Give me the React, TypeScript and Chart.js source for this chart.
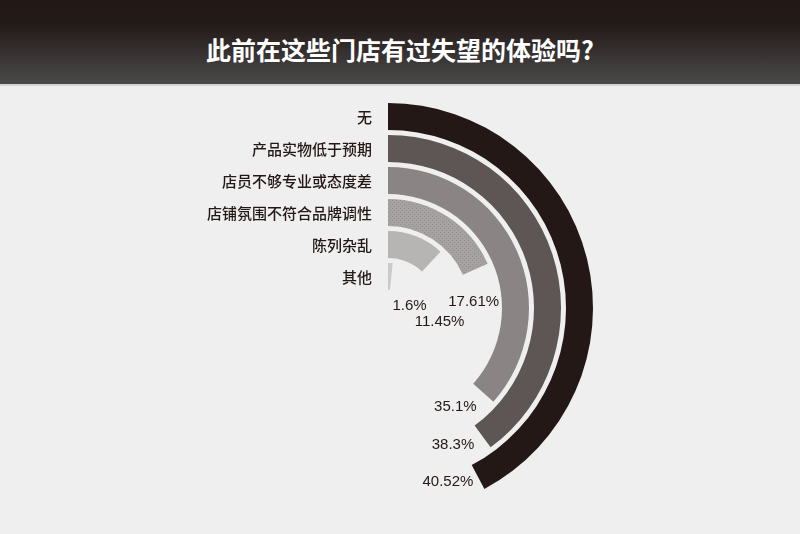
import React, { useEffect, useRef } from 'react';
import Chart from 'chart.js/auto';

const categories = ['无', '产品实物低于预期', '店员不够专业或态度差', '店铺氛围不符合品牌调性', '陈列杂乱', '其他'];
const percents = [40.52, 38.3, 35.1, 17.61, 11.45, 1.6];
const percentLabels = ['40.52%', '38.3%', '35.1%', '17.61%', '11.45%', '1.6%'];
const ringColors = ['#231815', '#5e5654', '#8a8584', '#a3a09f', '#b6b5b4', '#cacaca'];

const RING_WEIGHT = 27;
const GAP_WEIGHT = 5;

const makeDots = (): CanvasPattern | string => {
  const c = document.createElement('canvas');
  c.width = 4;
  c.height = 4;
  const g = c.getContext('2d');
  if (!g) return ringColors[3];
  g.fillStyle = '#a5a2a1';
  g.fillRect(0, 0, 4, 4);
  g.fillStyle = '#928e8d';
  g.fillRect(0, 0, 1, 1);
  g.fillRect(2, 2, 1, 1);
  return g.createPattern(c, 'repeat') || ringColors[3];
};

const ringLabels = {
  id: 'ringLabels',
  afterDatasetsDraw(chart: Chart) {
    const ctx = chart.ctx;
    ctx.save();
    ctx.fillStyle = '#231815';
    ctx.textBaseline = 'middle';
    const pcts: { text: string; x: number; y: number; w: number }[] = [];
    chart.data.datasets.forEach((ds: any, di: number) => {
      if (ds.ringIndex === undefined) return;
      const arc: any = chart.getDatasetMeta(di).data[0];
      if (!arc) return;
      const { x, y, endAngle, innerRadius, outerRadius } = arc.getProps(
        ['x', 'y', 'endAngle', 'innerRadius', 'outerRadius'],
        true
      );
      const mid = (innerRadius + outerRadius) / 2;
      // category name, left of the ring start
      ctx.font = '500 15px "Noto Sans CJK SC", sans-serif';
      ctx.textAlign = 'right';
      ctx.fillText(categories[ds.ringIndex], x - 16, y - mid + 1);
      // percentage, just past the arc end
      const r = innerRadius + 4;
      const a = endAngle + 28 / r;
      ctx.font = '15px "Liberation Sans", Arial, sans-serif';
      pcts[ds.ringIndex] = {
        text: percentLabels[ds.ringIndex],
        x: x + r * Math.cos(a),
        y: y + r * Math.sin(a) + 2,
        w: ctx.measureText(percentLabels[ds.ringIndex]).width,
      };
    });
    // inner labels first, push outer ones down when they collide
    const placed: { x: number; y: number; w: number }[] = [];
    for (let i = pcts.length - 1; i >= 0; i--) {
      const p = pcts[i];
      if (!p) continue;
      let moved = true;
      while (moved) {
        moved = false;
        for (const q of placed) {
          if (Math.abs(p.x - q.x) < (p.w + q.w) / 2 + 2 && Math.abs(p.y - q.y) < 16) {
            p.y = q.y + 16;
            moved = true;
          }
        }
      }
      placed.push(p);
      ctx.textAlign = 'center';
      ctx.fillText(p.text, p.x, p.y);
    }
    ctx.restore();
  },
};

const App = () => {
  const chartRef = useRef<HTMLCanvasElement>(null);
  const chartInstance = useRef<Chart<'doughnut', number[], string>>();

  useEffect(() => {
    if (chartInstance.current) {
      chartInstance.current.destroy();
    }
    const myChartRef = chartRef.current?.getContext('2d');
    if (!myChartRef) return;

    const dots = makeDots();
    const datasets: any[] = [];
    percents.forEach((v, i) => {
      if (i > 0) {
        datasets.push({
          data: [1],
          backgroundColor: ['rgba(0,0,0,0)'],
          weight: GAP_WEIGHT,
        });
      }
      datasets.push({
        ringIndex: i,
        data: [v, 100 - v],
        backgroundColor: [i === 3 ? dots : ringColors[i], 'rgba(0,0,0,0)'],
        weight: RING_WEIGHT,
      });
    });

    chartInstance.current = new Chart(myChartRef, {
      type: 'doughnut',
      data: {
        labels: ['value', 'rest'],
        datasets,
      },
      options: {
        animation: false,
        responsive: true,
        maintainAspectRatio: false,
        events: [],
        // 100% maps to 375 degrees, start at 12 o'clock
        rotation: 0,
        circumference: 375,
        cutout: 18,
        borderWidth: 0,
        hoverOffset: 0,
        offset: 0,
        layout: {
          padding: { left: 183, top: 103, right: 207, bottom: 21 },
        },
        plugins: {
          legend: { display: false },
          tooltip: { enabled: false },
          title: { display: false },
        },
      } as any,
      plugins: [ringLabels],
    });

    return () => {
      if (chartInstance.current) {
        chartInstance.current.destroy();
      }
    };
  }, []);

  return (
    <div
      style={{
        position: 'fixed',
        left: 0,
        top: 0,
        width: 800,
        height: 534,
        background: '#efefef',
        overflow: 'hidden',
      }}
    >
      <div
        style={{
          position: 'absolute',
          left: 0,
          top: 0,
          width: 800,
          height: 84,
          background: 'linear-gradient(to bottom, #221816 0%, #231a18 28%, #4a4a4a 100%)',
          borderBottom: '2px solid #d4d4d4',
        }}
      >
        <div
          style={{
            position: 'absolute',
            left: 0,
            top: 33,
            width: 800,
            textAlign: 'center',
            color: '#ffffff',
            fontFamily: '"Noto Sans CJK SC", sans-serif',
            fontWeight: 700,
            fontSize: 25,
            lineHeight: '32px',
          }}
        >
          此前在这些门店有过失望的体验吗?
        </div>
      </div>
      <div style={{ position: 'absolute', left: 0, top: 0, width: 800, height: 534 }}>
        <canvas ref={chartRef} />
      </div>
    </div>
  );
};

export default App;
